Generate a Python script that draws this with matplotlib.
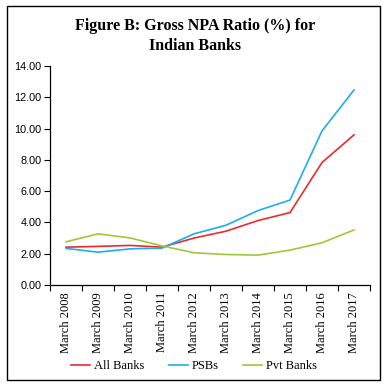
import matplotlib
matplotlib.use("Agg")
import matplotlib.pyplot as plt
from matplotlib.patches import Rectangle
from matplotlib.ticker import FixedLocator, NullFormatter, FormatStrFormatter

categories = ["March 2008", "March 2009", "March 2010", "March 2011", "March 2012",
              "March 2013", "March 2014", "March 2015", "March 2016", "March 2017"]
all_banks = [2.42, 2.47, 2.53, 2.42, 3.00, 3.44, 4.12, 4.63, 7.83, 9.60]
psbs = [2.34, 2.10, 2.31, 2.36, 3.27, 3.82, 4.76, 5.43, 9.85, 12.47]
pvt_banks = [2.76, 3.27, 3.01, 2.50, 2.06, 1.95, 1.91, 2.23, 2.70, 3.52]
yticks = [0, 2, 4, 6, 8, 10, 12, 14]

fig = plt.figure(figsize=(3.89, 3.88), dpi=100)
ax = fig.add_axes([50/389, 1-285/388, 320/389, 219/388])

x = list(range(len(categories)))
ax.plot(x, all_banks, color="#EE2A2E", lw=1.2, label="All Banks")
ax.plot(x, psbs, color="#1AAFEF", lw=1.2, label="PSBs")
ax.plot(x, pvt_banks, color="#9CC83A", lw=1.2, label="Pvt Banks")

ax.set_xlim(-0.5, len(categories) - 0.5)
ax.set_ylim(0, 14)
ax.set_yticks(yticks)
ax.yaxis.set_major_formatter(FormatStrFormatter("%.2f"))
ax.set_xticks(x)
ax.set_xticklabels(categories, rotation=90, family="Liberation Serif", fontsize=9)
ax.xaxis.set_minor_locator(FixedLocator([i - 0.5 for i in range(len(categories) + 1)]))
ax.xaxis.set_minor_formatter(NullFormatter())
ax.tick_params(axis="x", which="major", length=0, pad=5)
ax.tick_params(axis="x", which="minor", length=4, width=0.8, direction="out")
ax.tick_params(axis="y", length=4, width=0.8, labelsize=7.8, pad=2)
for lab in ax.get_yticklabels():
    lab.set_family("Liberation Sans")
for s in ["top", "right"]:
    ax.spines[s].set_visible(False)
for s in ["left", "bottom"]:
    ax.spines[s].set_linewidth(0.9)

fig.text(195/389, 1-26/388, "Figure B: Gross NPA Ratio (%) for", ha="center", va="center",
         family="Liberation Serif", fontweight="bold", fontsize=11.5)
fig.text(195/389, 1-46/388, "Indian Banks", ha="center", va="center",
         family="Liberation Serif", fontweight="bold", fontsize=11.5)

leg = fig.legend(loc="center", bbox_to_anchor=(194/389, 1-366/388), ncol=3, frameon=False,
                 prop={"family": "Liberation Serif", "size": 9}, handlelength=1.5,
                 columnspacing=2.0, handletextpad=0.3)

fig.add_artist(Rectangle((7/389, 1-380/388), 373/389, 374/388, transform=fig.transFigure,
                         fill=False, edgecolor="black", lw=1.0))

fig.savefig("out.png", dpi=100)
